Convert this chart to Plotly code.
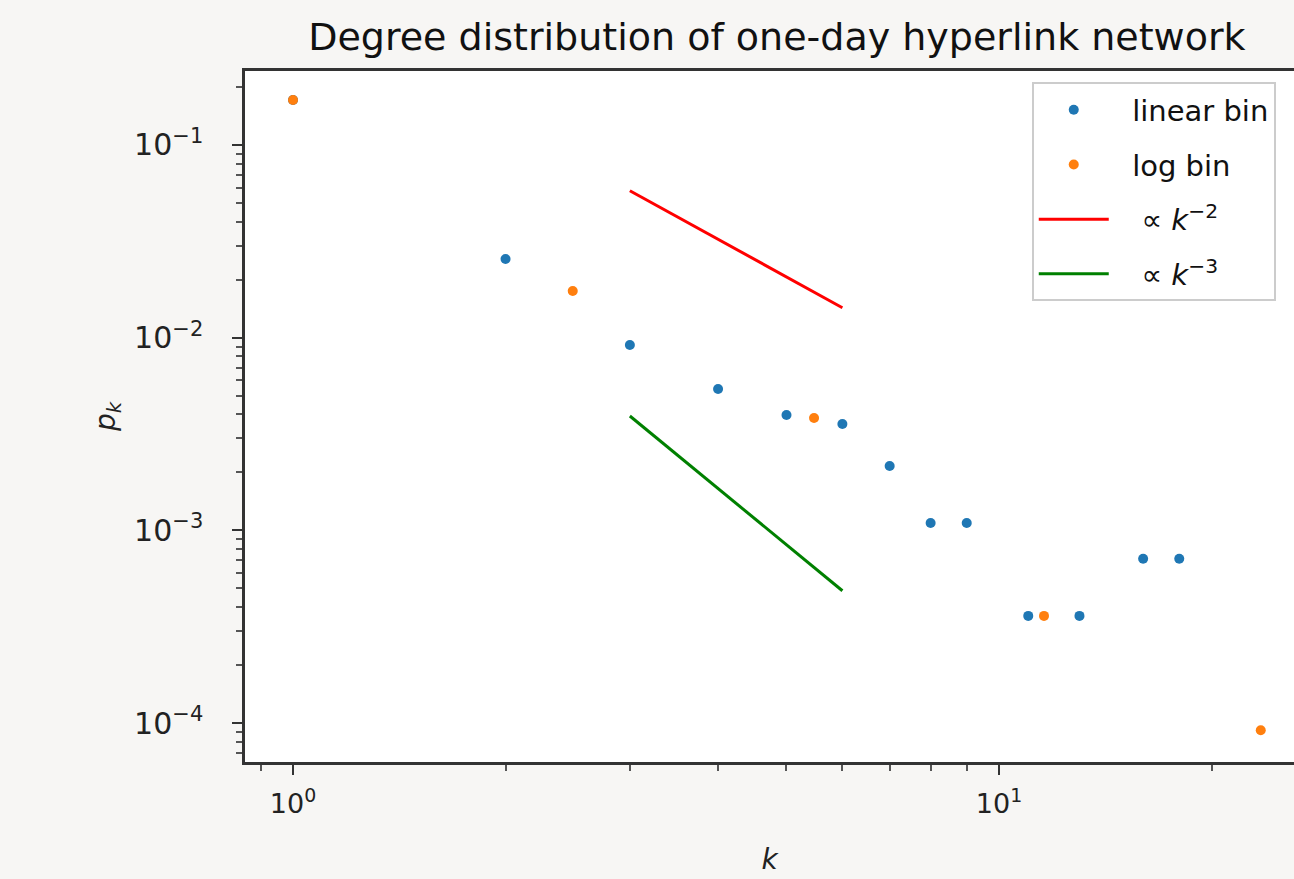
import plotly.graph_objects as go

# ---- data ----
lin_k = [1, 2, 3, 4, 5, 6, 7, 8, 9, 11, 13, 16, 18]
lin_p = [0.1712, 0.02561, 0.00917, 0.005418, 0.003971, 0.003566, 0.002159,
         0.001092, 0.001092, 0.000360, 0.000360, 0.000713, 0.000713]

log_k = [1.0, 2.49, 5.47, 11.58, 23.48]
log_p = [0.1712, 0.01748, 0.003831, 0.000360, 0.0000917]

ref_k = [3, 6]
ref2_p = [0.0579, 0.01431]      # ∝ k^-2
ref3_p = [0.003924, 0.000486]   # ∝ k^-3

y_tickvals = [1e-4, 1e-3, 1e-2, 1e-1]
y_ticktext = ["10<sup>−4</sup>", "10<sup>−3</sup>", "10<sup>−2</sup>", "10<sup>−1</sup>"]
x_tickvals = [1, 10]
x_ticktext = ["10<sup>0</sup>", "10<sup>1</sup>"]

FONT = "DejaVu Sans"
BLUE = "#1f77b4"
ORANGE = "#ff7f0e"
NB = "\u00a0"

fig = go.Figure()
fig.add_trace(go.Scatter(x=lin_k, y=lin_p, mode="markers", name=NB * 2 + "linear bin",
                         legendgroup="a",
                         marker=dict(color=BLUE, size=10, line=dict(width=0))))
fig.add_trace(go.Scatter(x=log_k, y=log_p, mode="markers", name=NB * 2 + "log bin",
                         legendgroup="b",
                         marker=dict(color=ORANGE, size=10, line=dict(width=0))))
fig.add_trace(go.Scatter(x=ref_k, y=ref2_p, mode="lines",
                         name=NB * 3 + "∝ <i>k</i><sup>−2</sup>", legendgroup="c",
                         line=dict(color="red", width=3)))
fig.add_trace(go.Scatter(x=ref_k, y=ref3_p, mode="lines",
                         name=NB * 3 + "∝ <i>k</i><sup>−3</sup>", legendgroup="d",
                         line=dict(color="green", width=3)))

x_minor = [m * 10 ** e for e in (-1, 0, 1) for m in range(2, 10)]
y_minor = [m * 10.0 ** e for e in (-5, -4, -3, -2, -1) for m in range(2, 10)]

fig.update_layout(
    width=1294, height=879,
    margin=dict(l=245, r=0, t=71, b=117),
    paper_bgcolor="#f7f6f4",
    plot_bgcolor="white",
    font=dict(family=FONT, color="#222", size=26),
    title=dict(text="Degree distribution of one-day hyperlink network",
               font=dict(family=FONT, size=38, color="#111"),
               x=0.507, xref="paper", xanchor="center",
               y=1 - 37 / 879, yref="container", yanchor="middle"),
    showlegend=True,
    legend=dict(x=0.75, y=0.9835, xanchor="left", yanchor="top",
                bgcolor="white", bordercolor="#cccccc", borderwidth=2,
                font=dict(family=FONT, size=29, color="#111"),
                tracegroupgap=14, itemwidth=70),
)

fig.update_xaxes(
    type="log", range=[-0.068, 1.4178],
    showgrid=False, zeroline=False,
    showline=True, linecolor="#333", linewidth=2.5, mirror=True,
    tickvals=x_tickvals, ticktext=x_ticktext,
    ticks="outside", ticklen=10, tickwidth=2, tickcolor="#333",
    ticklabelstandoff=6,
    tickfont=dict(family=FONT, size=27, color="#222"),
    minor=dict(tickvals=x_minor, ticks="outside", ticklen=6, tickwidth=1.5,
               tickcolor="#555", showgrid=False),
    title=dict(text="<i>k</i>", font=dict(family=FONT, size=28, color="#222"),
               standoff=32),
)
fig.update_yaxes(
    type="log", range=[-4.202, -0.616],
    showgrid=False, zeroline=False,
    showline=True, linecolor="#333", linewidth=2.5, mirror=False,
    tickvals=y_tickvals, ticktext=y_ticktext,
    ticks="outside", ticklen=10, tickwidth=2, tickcolor="#333",
    ticklabelstandoff=23,
    tickfont=dict(family=FONT, size=30, color="#222"),
    minor=dict(tickvals=y_minor, ticks="outside", ticklen=6, tickwidth=1.5,
               tickcolor="#555", showgrid=False),
    title=dict(text="<i>p</i><sub><i>k</i></sub>",
               font=dict(family=FONT, size=28, color="#222"), standoff=11),
)

fig.write_html("out.html")
